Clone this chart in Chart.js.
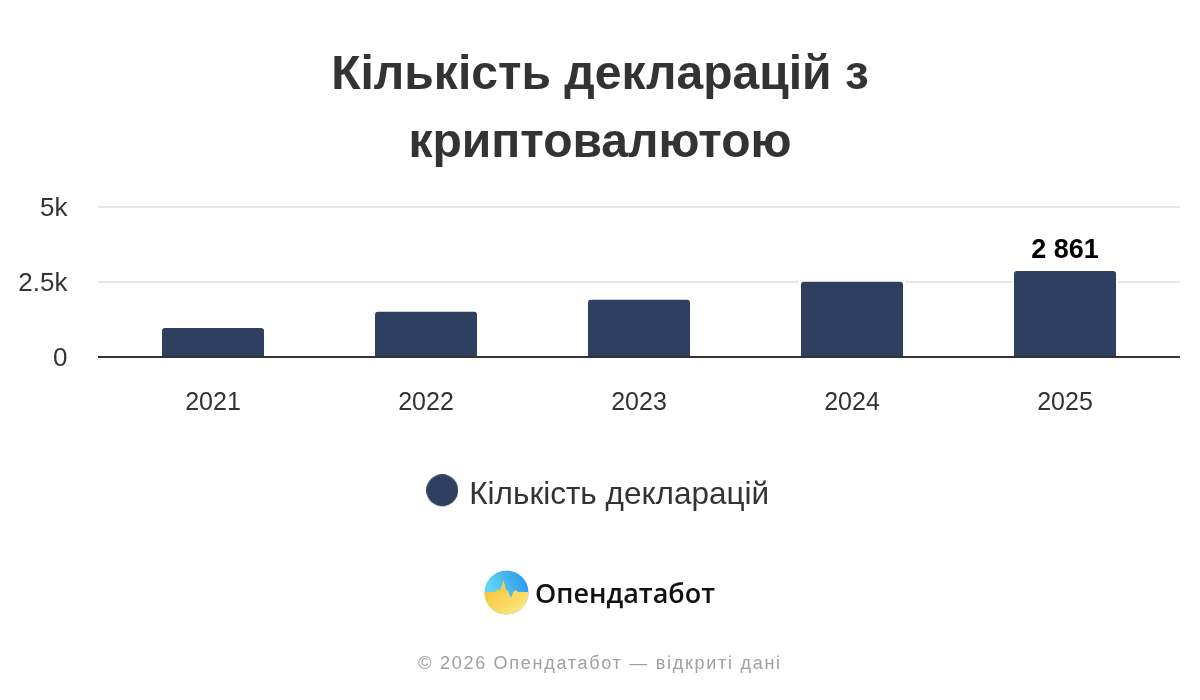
<!DOCTYPE html>
<html lang="uk">
<head>
<meta charset="utf-8">
<title>Кількість декларацій з криптовалютою</title>
<script src="https://cdn.jsdelivr.net/npm/chart.js@4"></script>
<style>
html,body{margin:0;padding:0;background:#fff;width:1200px;height:700px;overflow:hidden}
#wrap{position:relative;width:1200px;height:700px}
canvas{position:absolute;left:0;top:0}
#logo{position:absolute;left:484px;top:570px;width:45px;height:45px}
#brand{position:absolute;left:535px;top:570px;font:600 27px "Open Sans",sans-serif;line-height:45px;color:#111}
#foot{position:absolute;left:0;width:1200px;top:651px;text-align:center;font:18px "Liberation Sans",sans-serif;letter-spacing:1.72px;line-height:24px;color:#a0a0a0}
</style>
</head>
<body>
<div id="wrap">
<canvas id="c" width="1200" height="700"></canvas>
<svg id="logo" viewBox="0 0 45 45">
<defs>
<linearGradient id="sky" x1="0.1" y1="0.3" x2="0.8" y2="0"><stop offset="0" stop-color="#5fd5f5"/><stop offset="1" stop-color="#2f9bee"/></linearGradient>
<linearGradient id="sun" x1="0" y1="0.3" x2="0.7" y2="1"><stop offset="0" stop-color="#f8c534"/><stop offset="1" stop-color="#fbe67e"/></linearGradient>
<clipPath id="cp"><circle cx="22.5" cy="22.5" r="22"/></clipPath>
</defs>
<g clip-path="url(#cp)">
<rect width="45" height="45" fill="url(#sky)"/>
<path d="M0 22 L11 22 L14 19 L16 21 L19.5 10 L22 20 L24 21 L27 28 L29 22 L32 20 L34 22 L45 22 L45 45 L0 45 Z" fill="url(#sun)"/>
</g>
</svg>
<div id="brand">Опендатабот</div>
<div id="foot">© 2026 Опендатабот — відкриті дані</div>
</div>
<script>
const titleLines = ['Кількість декларацій з', 'криптовалютою'];
const seriesName = 'Кількість декларацій';
const categories = ['2021', '2022', '2023', '2024', '2025'];
const declarations = [950, 1500, 1900, 2500, 2861];
const yTicks = [0, 2500, 5000];
const yTickLabels = ['0', '2.5k', '5k'];
const labelledIndexes = [4];

const sans = '"Liberation Sans", Arial, sans-serif';

const dot = document.createElement('canvas');
dot.width = 32; dot.height = 42;
const dotCtx = dot.getContext('2d');
dotCtx.fillStyle = '#2e3f5f';
dotCtx.beginPath(); dotCtx.arc(16, 16, 16, 0, Math.PI * 2); dotCtx.fill();

const decor = {
  id: 'decor',
  beforeDraw(chart) { chart.scales.y.left = 0; },
  beforeDatasetsDraw(chart) {
    const {ctx, chartArea: a, scales: {y}} = chart;
    ctx.save();
    ctx.lineWidth = 2;
    ctx.strokeStyle = '#e6e6e6';
    yTicks.filter(v => v !== 0).forEach(v => {
      const p = Math.round(y.getPixelForValue(v));
      ctx.beginPath(); ctx.moveTo(a.left - 8.5, p); ctx.lineTo(a.right + 8.5, p); ctx.stroke();
    });
    ctx.fillStyle = '#fff';
    chart.getDatasetMeta(0).data.forEach(b => {
      ctx.fillRect(b.x - b.width / 2 - 2, b.y - 2, b.width + 4, b.base - b.y + 2);
    });
    ctx.restore();
  },
  afterDatasetsDraw(chart) {
    const {ctx, chartArea: a, scales: {y}} = chart;
    ctx.save();
    const p = Math.round(y.getPixelForValue(0));
    ctx.lineWidth = 2;
    ctx.strokeStyle = '#333';
    ctx.beginPath(); ctx.moveTo(a.left - 8.5, p); ctx.lineTo(a.right + 8.5, p); ctx.stroke();
    ctx.fillStyle = '#000';
    ctx.font = 'bold 27px ' + sans;
    ctx.textAlign = 'center';
    ctx.textBaseline = 'middle';
    const bars = chart.getDatasetMeta(0).data;
    labelledIndexes.forEach(i => {
      const text = String(declarations[i]).replace(/\B(?=(\d{3})+$)/g, ' ');
      ctx.fillText(text, bars[i].x, bars[i].y - 20);
    });
    ctx.restore();
  }
};

new Chart(document.getElementById('c'), {
  type: 'bar',
  data: {
    labels: categories,
    datasets: [{
      label: seriesName,
      data: declarations,
      backgroundColor: '#2e3f5f',
      borderWidth: 0,
      borderRadius: {topLeft: 3, topRight: 3, bottomLeft: 0, bottomRight: 0},
      borderSkipped: false,
      barPercentage: 0.479,
      categoryPercentage: 1
    }]
  },
  plugins: [decor],
  options: {
    responsive: false,
    animation: false,
    layout: {padding: {left: 28.5, right: 28.5, top: 34, bottom: 179}},
    plugins: {
      tooltip: {enabled: false},
      title: {
        display: true,
        text: titleLines,
        color: '#333',
        font: {family: sans, weight: 'bold', size: 48, lineHeight: 68 / 48},
        padding: {top: 8, bottom: 29}
      },
      legend: {
        position: 'bottom',
        labels: {
          usePointStyle: true,
          pointStyle: dot,
          boxWidth: 22.6,
          boxHeight: 22.6,
          color: '#333',
          font: {family: sans, size: 31.5, lineHeight: 1.4},
          padding: 10
        }
      }
    },
    scales: {
      x: {
        grid: {display: false, drawTicks: false},
        border: {display: false},
        ticks: {color: '#333', font: {family: sans, size: 25}, padding: 32, maxRotation: 0},
        afterFit(s) { s.height = 113; }
      },
      y: {
        min: 0,
        max: 5000,
        afterBuildTicks(s) { s.ticks = yTicks.map(v => ({value: v})); },
        grid: {display: false, drawTicks: false},
        border: {display: false},
        ticks: {
          color: '#333',
          font: {family: sans, size: 26},
          padding: 39,
          labelOffset: 2,
          callback: v => yTickLabels[yTicks.indexOf(v)]
        },
        afterFit(s) { s.width = 78; }
      }
    }
  }
});
</script>
</body>
</html>
